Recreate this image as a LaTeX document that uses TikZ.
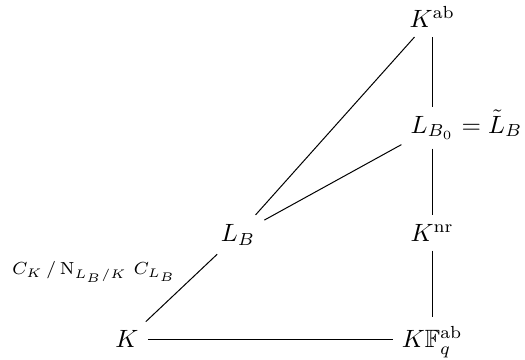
\documentclass[tikz,border=0pt]{standalone}
\usepackage{amsmath}
\usepackage{amssymb}
\usetikzlibrary{positioning}
\tikzset{
  fld/.style={inner sep=3.5pt,anchor=base},
  incl/.style={draw=black,line width=0.4pt},
  lbl/.style={font=\scriptsize,inner sep=2pt},
}
\begin{document}
\begin{tikzpicture}
  \useasboundingbox (-1.785,-0.169) rectangle (5.594,4.891);

  \node[fld] (K)   at (0,0)       {$K$};
  \node[fld] (KFq) at (4.29,0)    {$K\mathbb{F}_q^{\mathrm{ab}}$};
  \node[fld] (LB)  at (1.56,1.50) {$L_B$};
  \node[fld] (Knr) at (4.29,1.50) {$K^{\mathrm{nr}}$};
  \node[fld] (LB0) at (4.29,3.02) {$L_{B_0}$};
  \node[fld] (Kab) at (4.29,4.50) {$K^{\mathrm{ab}}$};
  \node[base right=-3.5pt of LB0,inner sep=0pt] (LBt) {${}=\tilde{L}_B$};

  \draw[incl] (K.east) -- (K.east -| KFq.west);
  \draw[incl] (K) -- node[lbl,above left] {$C_K\,/\operatorname{N}_{L_B/K}\,C_{L_B}$} (LB);
  \draw[incl] (LB) -- (Kab);
  \draw[incl] (LB) -- (LB0);
  \draw[incl] (Kab) -- (LB0);
  \draw[incl] (LB0) -- (Knr);
  \draw[incl] (Knr) -- (KFq);

\end{tikzpicture}
\end{document}
